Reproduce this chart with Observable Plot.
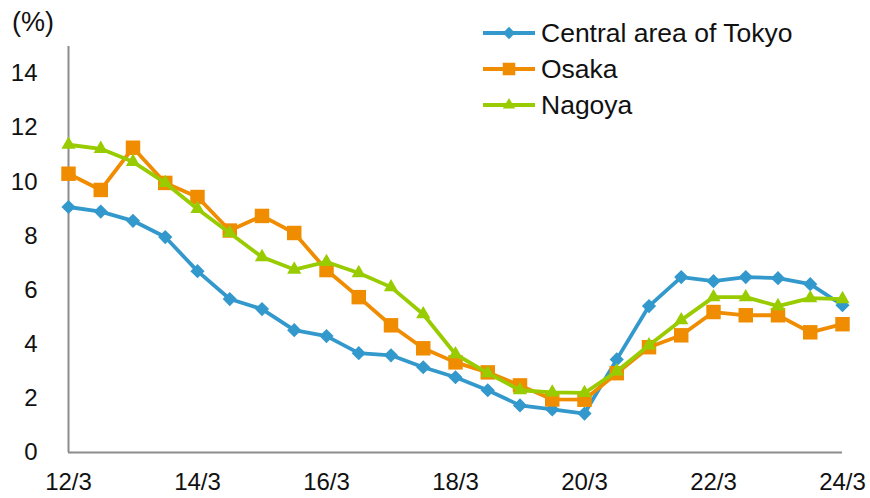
<!DOCTYPE html>
<html>
<head>
<meta charset="utf-8">
<script src="https://cdn.jsdelivr.net/npm/d3@7"></script>
<script src="https://cdn.jsdelivr.net/npm/@observablehq/plot@0.6"></script>
<style>
  html, body { margin: 0; padding: 0; background: #fff; }
  #wrap { position: relative; width: 870px; height: 498px; font-family: "Liberation Sans", Arial, sans-serif; }
  #unit { position: absolute; left: 12px; top: 7px; font-size: 27px; color: #111; }
  #legend { position: absolute; left: 482px; top: 15px; font-size: 26.5px; color: #111; }
  .row { display: flex; align-items: center; height: 36px; }
  .row svg { margin-right: 5px; }
</style>
</head>
<body>
<div id="wrap">
  <div id="unit">(%)</div>
  <div id="legend"></div>
</div>
<script>
const periods = ["12/3","12/9","13/3","13/9","14/3","14/9","15/3","15/9","16/3","16/9","17/3","17/9","18/3","18/9","19/3","19/9","20/3","20/9","21/3","21/9","22/3","22/9","23/3","23/9","24/3"];
const tokyo  = [9.07,8.9,8.56,7.96,6.7,5.67,5.3,4.52,4.3,3.67,3.59,3.15,2.78,2.3,1.74,1.59,1.44,3.44,5.41,6.48,6.33,6.48,6.44,6.22,5.44];
const osaka  = [10.3,9.7,11.26,9.96,9.44,8.2,8.74,8.11,6.74,5.74,4.7,3.85,3.33,2.96,2.48,1.96,1.95,2.93,3.89,4.33,5.19,5.07,5.07,4.44,4.74];
const nagoya = [11.37,11.22,10.74,9.96,9.0,8.11,7.22,6.76,7.04,6.63,6.11,5.11,3.63,2.93,2.3,2.22,2.2,3.0,3.96,4.89,5.74,5.74,5.41,5.7,5.67];
const seriesNames = ["Central area of Tokyo","Osaka","Nagoya"];
const seriesColors = ["#3399cc","#f08c00","#99cc00"];
const seriesSymbols = ["diamond2","square2","triangle2"];
const seriesR = [6.4, 9.2, 6.8];
const yTicks = [0,2,4,6,8,10,12,14];
const xTickLabels = ["12/3","14/3","16/3","18/3","20/3","22/3","24/3"];

const allSeries = [tokyo, osaka, nagoya];
const data = allSeries.map((vals, s) => vals.map((v, i) => ({i, v, s})));
const xTicks = xTickLabels.map(l => periods.indexOf(l));

const marks = [
  Plot.ruleX([0], {stroke: "#8c8c8c", strokeWidth: 2}),
  Plot.ruleY([0], {stroke: "#8c8c8c", strokeWidth: 2})
];
data.forEach((d, s) => {
  marks.push(Plot.line(d, {x: "i", y: "v", stroke: seriesColors[s], strokeWidth: 3.8}));
  marks.push(Plot.dot(d, {x: "i", y: "v", fill: seriesColors[s], symbol: seriesSymbols[s], r: seriesR[s], stroke: "none"}));
});

const chart = Plot.plot({
  width: 870,
  height: 498,
  marginLeft: 68,
  marginRight: 28,
  marginTop: 46,
  marginBottom: 46,
  style: {fontFamily: "Liberation Sans, Arial, sans-serif", fontSize: "24px", color: "#111", background: "transparent", overflow: "visible"},
  x: {domain: [0, periods.length - 1], ticks: xTicks, tickFormat: i => periods[i], tickSize: 0, tickPadding: 20, label: null},
  y: {domain: [0, 15], ticks: yTicks, tickSize: 0, tickPadding: 31, label: null},
  marks
});
chart.style.position = "absolute";
chart.style.left = "0";
chart.style.top = "0";
document.getElementById("wrap").prepend(chart);

// legend
const legend = document.getElementById("legend");
seriesNames.forEach((name, s) => {
  const row = document.createElement("div");
  row.className = "row";
  const sw = d3.create("svg").attr("width", 54).attr("height", 20);
  sw.append("line").attr("x1", 1).attr("x2", 53).attr("y1", 10).attr("y2", 10)
    .attr("stroke", seriesColors[s]).attr("stroke-width", 3.8);
  const sym = {diamond2: d3.symbolDiamond2, square2: d3.symbolSquare2, triangle2: d3.symbolTriangle2}[seriesSymbols[s]];
  sw.append("path").attr("transform", "translate(27,10)")
    .attr("d", d3.symbol(sym, Math.PI * seriesR[s] * seriesR[s] * 0.75)())
    .attr("fill", seriesColors[s]);
  row.appendChild(sw.node());
  const t = document.createElement("span");
  t.textContent = name;
  row.appendChild(t);
  legend.appendChild(row);
});
</script>
</body>
</html>
